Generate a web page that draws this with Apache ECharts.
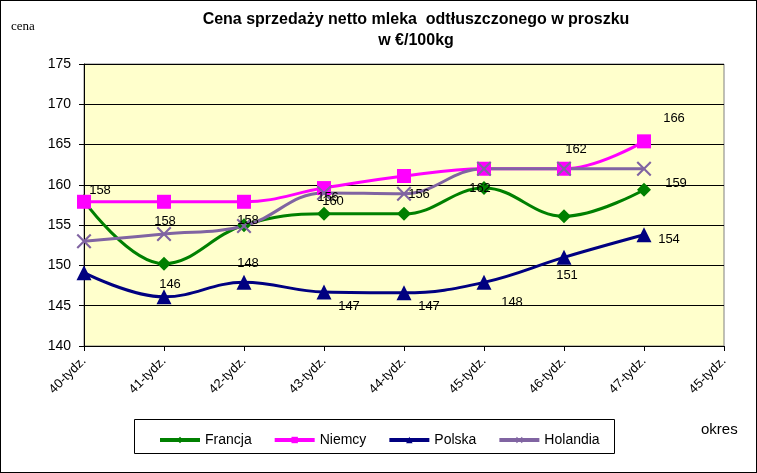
<!DOCTYPE html>
<html>
<head>
<meta charset="utf-8">
<script src="https://cdn.jsdelivr.net/npm/echarts@6/dist/echarts.min.js"></script>
<style>
  html, body { margin: 0; padding: 0; background: #fff; }
  #chart { width: 757px; height: 473px; box-sizing: border-box; border: 1px solid #000; }
</style>
</head>
<body>
<div id="chart"></div>
<script>
// dane
var weeks = ['40-tydz.', '41-tydz.', '42-tydz.', '43-tydz.', '44-tydz.', '45-tydz.', '46-tydz.', '47-tydz.', '45-tydz.'];
var francja = [158, 150.2, 155.0, 156.4, 156.4, 159.6, 156.1, 159.4];
var niemcy = [157.9, 157.9, 157.9, 159.6, 161.1, 162.0, 162.0, 165.4];
var polska = [149.1, 146.1, 147.9, 146.7, 146.6, 147.9, 151.0, 153.8];
var holandia = [153.0, 153.9, 154.9, 159.0, 158.9, 162.0, 162.0, 162.0];

// etykiety danych (tak jak na oryginale)
var francjaLabels = [null, null, null, '160', null, '162', null, '159'];
var niemcyLabels = ['158', null, null, null, null, null, '162', '166'];
var polskaLabels = [null, '146', '148', '147', '147', '148', '151', '154'];
var holandiaLabels = [null, '158', '158', '156', '156', null, null, null];

var yTicks = { min: 140, max: 175, step: 5 };

// przesuniecia etykiet wzgledem punktu
var labelOffsets = {
  francja: [null, null, null, [9, -12], null, [-4, 0], null, [32, -6]],
  niemcy: [[16, -11], null, null, null, null, null, [12, -19], [30, -23]],
  polska: [null, [6, -12], [4, -19], [25, 14], [25, 14], [28, 20], [3, 18], [25, 5]],
  holandia: [null, [1, -13], [4, -6], [4, 5], [15, 1], null, null, null]
};

var FONT = "'Liberation Sans', Arial, sans-serif";

function withLabels(values, labels, offsets) {
  return values.map(function (v, i) {
    var item = { value: v };
    if (labels[i] != null) {
      item.label = {
        show: true,
        formatter: labels[i],
        position: 'inside',
        offset: offsets[i] || [0, 0],
        color: '#000',
        fontFamily: FONT,
        fontSize: 13
      };
    }
    return item;
  });
}

var crossPath = 'path://M0,1 L1,0 L5,4 L9,0 L10,1 L6,5 L10,9 L9,10 L5,6 L1,10 L0,9 L4,5 Z';

function lineSeries(name, color, symbol, size, values, labels, offsets) {
  return {
    name: name,
    type: 'line',
    smooth: 0.4,
    symbol: symbol,
    symbolSize: size,
    data: withLabels(values, labels, offsets),
    lineStyle: { color: color, width: 3 },
    itemStyle: { color: color },
    label: { show: false },
    emphasis: { disabled: true },
    animation: false
  };
}

var chart = echarts.init(document.getElementById('chart'));
chart.setOption({
  animation: false,
  title: {
    text: 'Cena sprzedaży netto mleka  odtłuszczonego w proszku\nw €/100kg',
    left: 410,
    top: 3,
    textAlign: 'center',
    textStyle: { fontFamily: FONT, fontSize: 16, fontWeight: 'bold', color: '#000', lineHeight: 21 }
  },
  graphic: [
    {
      type: 'text', left: 10, top: 19,
      style: { text: 'cena', font: "13px 'Liberation Serif', 'Times New Roman', serif", fill: '#000' }
    },
    {
      type: 'text', left: 700, top: 421,
      style: { text: 'okres', font: "15px " + FONT, fill: '#000' }
    },
    {
      type: 'rect', left: 133, top: 418, z: -1,
      shape: { width: 480, height: 34 },
      style: { fill: '#fff', stroke: '#000', lineWidth: 1 }
    }
  ],
  legend: {
    left: 152,
    top: 427,
    itemWidth: 40,
    itemHeight: 8,
    itemGap: 21,
    itemStyle: { borderWidth: 0 },
    lineStyle: { width: 4 },
    textStyle: { fontFamily: FONT, fontSize: 14, color: '#000' },
    data: ['Francja', 'Niemcy', 'Polska', 'Holandia']
  },
  grid: {
    left: 83,
    top: 63,
    right: 32,
    bottom: 126,
    show: true,
    backgroundColor: '#FFFFCC',
    borderColor: '#808080',
    borderWidth: 1
  },
  xAxis: {
    type: 'category',
    data: weeks,
    boundaryGap: false,
    axisLine: { lineStyle: { color: '#000', width: 1 } },
    axisTick: { show: true, length: 5, lineStyle: { color: '#000' }, alignWithLabel: true },
    axisLabel: { rotate: 45, interval: 0, fontFamily: FONT, fontSize: 13, color: '#000', margin: 13 },
    splitLine: { show: false }
  },
  yAxis: {
    type: 'value',
    min: yTicks.min,
    max: yTicks.max,
    interval: yTicks.step,
    axisLine: { show: true, lineStyle: { color: '#000', width: 1 } },
    axisTick: { show: true, length: 5, lineStyle: { color: '#000' } },
    axisLabel: { fontFamily: FONT, fontSize: 14, color: '#000', margin: 13 },
    splitLine: { show: true, lineStyle: { color: '#000', width: 1 } }
  },
  series: [
    lineSeries('Francja', '#008000', 'diamond', 14, francja, francjaLabels, labelOffsets.francja),
    lineSeries('Niemcy', '#FF00FF', 'rect', 14, niemcy, niemcyLabels, labelOffsets.niemcy),
    lineSeries('Polska', '#000080', 'triangle', 15, polska, polskaLabels, labelOffsets.polska),
    lineSeries('Holandia', '#8064A2', crossPath, 15, holandia, holandiaLabels, labelOffsets.holandia)
  ]
});
</script>
</body>
</html>
